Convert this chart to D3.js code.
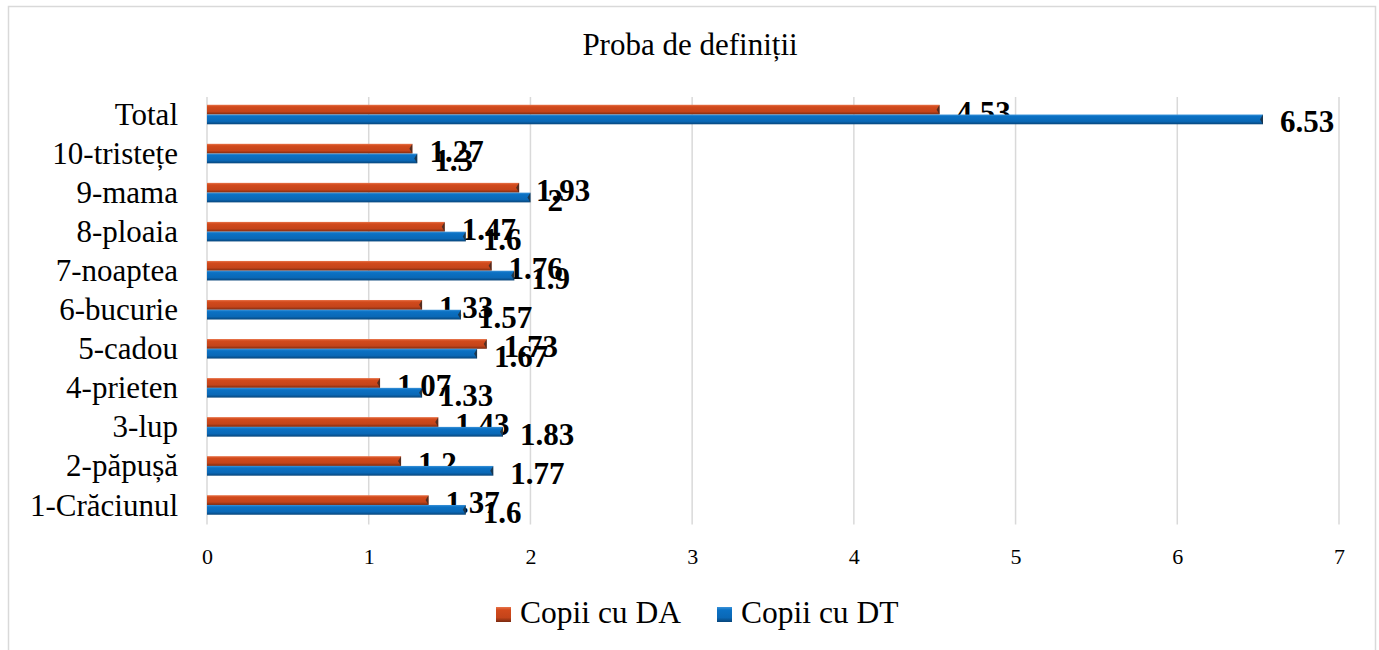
<!DOCTYPE html>
<html>
  <head>
    <meta charset="UTF-8" />
    <script src="https://cdn.jsdelivr.net/npm/d3@7"></script>
    <title>Proba de definiții</title>
    <style type="text/css">
      body { margin: 0; background: #fff; }
      text { font-family: "Liberation Serif", "Times New Roman", serif; fill: #000; }
    </style>
  </head>
  <body>
    <div id="chartcontainer"></div>
    <script>
      // categories, top to bottom as drawn
      const categories = ["Total", "10-tristețe", "9-mama", "8-ploaia", "7-noaptea", "6-bucurie",
        "5-cadou", "4-prieten", "3-lup", "2-păpușă", "1-Crăciunul"];
      const copiiDA = [4.53, 1.27, 1.93, 1.47, 1.76, 1.33, 1.73, 1.07, 1.43, 1.2, 1.37];
      const copiiDT = [6.53, 1.3, 2, 1.6, 1.9, 1.57, 1.67, 1.33, 1.83, 1.77, 1.6];
      const seriesNames = ["Copii cu DA", "Copii cu DT"];
      const xTicks = [0, 1, 2, 3, 4, 5, 6, 7];

      const W = 1379, H = 650;
      var margin = { top: 95, right: 40, bottom: 125, left: 207 },
        width = 1339 - margin.left,
        height = 524.5 - margin.top;

      var svg = d3.select("#chartcontainer")
        .append("svg")
        .attr("width", W)
        .attr("height", H);

      // outer frame
      svg.append("rect")
        .attr("x", 8.5).attr("y", 6.5)
        .attr("width", 1367).attr("height", 660)
        .attr("fill", "#fff")
        .attr("stroke", "#d9d9d9")
        .attr("stroke-width", 1.5);

      // gradients to mimic the bevelled bars
      var defs = svg.append("defs");
      function grad(id, stops) {
        var g = defs.append("linearGradient").attr("id", id)
          .attr("x1", 0).attr("y1", 0).attr("x2", 0).attr("y2", 1);
        stops.forEach(function (s) {
          g.append("stop").attr("offset", s[0]).attr("stop-color", s[1]);
        });
      }
      grad("gradDA", [[0, "#e8744a"], [0.2, "#d24a1c"], [0.7, "#c4441a"], [1, "#7a2a10"]]);
      grad("gradDT", [[0, "#3b93d9"], [0.2, "#0b71c4"], [0.7, "#0a68b6"], [1, "#08457a"]]);
      const fills = ["url(#gradDA)", "url(#gradDT)"];

      var g = svg.append("g")
        .attr("transform", "translate(" + margin.left + "," + margin.top + ")");

      var x = d3.scaleLinear().domain([0, 7]).range([0, width]);
      var y = d3.scaleBand().domain(categories).range([0, height]).paddingInner(0.5).paddingOuter(0.25);
      var ySub = d3.scaleBand().domain([0, 1]).range([0, y.bandwidth()]);

      // vertical gridlines
      g.selectAll(".grid")
        .data(xTicks)
        .enter()
        .append("line")
        .attr("x1", function (d) { return x(d); })
        .attr("x2", function (d) { return x(d); })
        .attr("y1", 2)
        .attr("y2", height)
        .attr("stroke", "#d9d9d9")
        .attr("stroke-width", 1.5);

      // x axis labels
      var xAxis = g.append("g")
        .attr("transform", "translate(0," + height + ")")
        .call(d3.axisBottom(x).tickValues(xTicks).tickSize(0).tickPadding(24).tickFormat(d3.format("d")));
      xAxis.select(".domain").remove();
      xAxis.selectAll("text")
        .style("font-size", "22px")
        .style("font-family", "'Liberation Serif', serif");

      // y axis labels
      var yAxis = g.append("g")
        .call(d3.axisLeft(y).tickSize(0).tickPadding(29));
      yAxis.select(".domain").remove();
      yAxis.selectAll("text")
        .attr("dy", "0.34em")
        .style("font-size", "31px")
        .style("font-family", "'Liberation Serif', serif");

      var series = [copiiDA, copiiDT];
      series.forEach(function (vals, si) {
        var rows = categories.map(function (c, i) { return { cat: c, v: vals[i] }; });
        var grp = g.append("g");
        grp.selectAll("rect")
          .data(rows)
          .enter()
          .append("rect")
          .attr("x", 0)
          .attr("y", function (d) { return y(d.cat) + ySub(si); })
          .attr("width", function (d) { return x(d.v); })
          .attr("height", ySub.bandwidth())
          .attr("fill", fills[si]);
        // little dark bevel at the bar end
        grp.selectAll("path")
          .data(rows)
          .enter()
          .append("path")
          .attr("d", function (d) {
            var bx = x(d.v), by = y(d.cat) + ySub(si), h = ySub.bandwidth();
            return "M" + bx + "," + by + "L" + (bx - 3) + "," + (by + h / 2) + "L" + bx + "," + (by + h) + "Z";
          })
          .attr("fill", "#222")
          .attr("opacity", 0.7);
        grp.selectAll("text")
          .data(rows)
          .enter()
          .append("text")
          .attr("x", function (d) { return x(d.v) + 17; })
          .attr("y", function (d) { return y(d.cat) + ySub(si) + ySub.bandwidth() / 2; })
          .attr("dy", "0.42em")
          .style("font-size", "31px")
          .style("font-weight", "bold")
          .text(function (d) { return String(d.v); });
      });

      // title
      svg.append("text")
        .attr("x", 690)
        .attr("y", 55)
        .attr("text-anchor", "middle")
        .style("font-size", "31px")
        .text("Proba de definiții");

      // legend
      var legendX = [496, 717];
      seriesNames.forEach(function (name, i) {
        svg.append("rect")
          .attr("x", legendX[i])
          .attr("y", 607)
          .attr("width", 15)
          .attr("height", 15)
          .attr("fill", fills[i]);
        svg.append("text")
          .attr("x", legendX[i] + 24)
          .attr("y", 623)
          .style("font-size", "31.5px")
          .text(name);
      });
    </script>
  </body>
</html>
